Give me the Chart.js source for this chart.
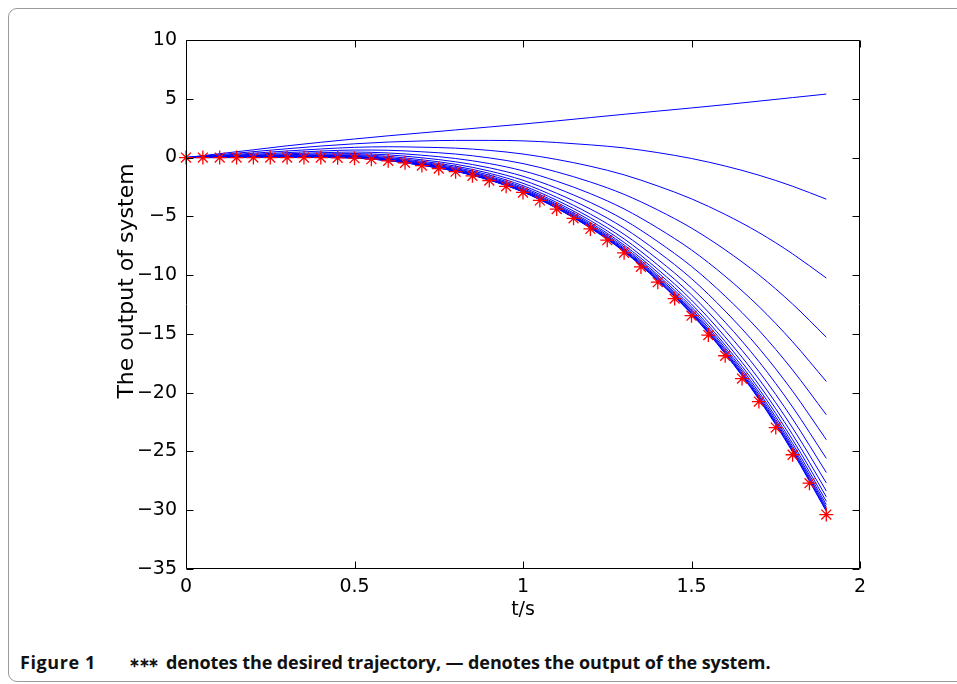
<!DOCTYPE html>
<html>
<head>
<meta charset="utf-8">
<title>Output of system</title>
<script src="https://cdn.jsdelivr.net/npm/chart.js@4.4.1/dist/chart.umd.min.js"></script>
<style>
  html, body { margin: 0; padding: 0; background: #fff; }
  #wrap { position: relative; width: 957px; height: 684px; overflow: hidden; }
  #frame { position: absolute; left: 8px; top: 8px; width: 1000px; height: 674px;
           border: 1px solid #9a9a9a; border-radius: 9px; box-sizing: border-box; }
  #plot { position: absolute; left: 0; top: 0; }
  .cap { position: absolute; top: 650px; white-space: nowrap;
         font: bold 18px "Open Sans", sans-serif; color: #111; }
  #capStars { font-size: 13px; top: 653px; letter-spacing: -1.5px; }
</style>
</head>
<body>
<div id="wrap">
  <div id="frame"></div>
  <canvas id="plot" width="957" height="630"></canvas>
  <span class="cap" style="left:20px; letter-spacing:0.6px">Figure 1</span>
  <span class="cap" id="capStars" style="left:129px">∗∗∗</span>
  <span class="cap" style="left:166px; letter-spacing:-0.1px">denotes the desired trajectory, — denotes the output of the system.</span>
</div>
<script>
// time grid for the desired trajectory (every 0.05 s) and for the system runs (every 0.1 s)
const tDesired = [0, 0.05, 0.1, 0.15, 0.2, 0.25, 0.3, 0.35, 0.4, 0.45, 0.5, 0.55, 0.6, 0.65, 0.7, 0.75,
  0.8, 0.85, 0.9, 0.95, 1.0, 1.05, 1.1, 1.15, 1.2, 1.25, 1.3, 1.35, 1.4, 1.45, 1.5, 1.55, 1.6, 1.65,
  1.7, 1.75, 1.8, 1.85, 1.9];
const tRun = [0, 0.1, 0.2, 0.3, 0.4, 0.5, 0.6, 0.7, 0.8, 0.9, 1.0, 1.1, 1.2, 1.3, 1.4, 1.5, 1.6, 1.7, 1.8, 1.9];

// desired trajectory (red stars)
const desired = [0, 0, 0, 0, 0, 0, 0, 0, 0, -0.02, -0.05, -0.14, -0.28, -0.45, -0.68, -0.93,
  -1.2, -1.55, -1.95, -2.45, -2.97, -3.65, -4.38, -5.17, -6.07, -7.03, -8.1, -9.3, -10.6, -12.0,
  -13.45, -15.1, -16.86, -18.8, -20.76, -22.97, -25.28, -27.7, -30.37];

// system output, one array per run
const run1  = [0, 0.33, 0.66, 1.0, 1.3, 1.58, 1.85, 2.10, 2.35, 2.60, 2.85, 3.12, 3.40, 3.68, 3.95, 4.22, 4.50, 4.80, 5.10, 5.40];
const run2  = [0, 0.25, 0.50, 0.75, 0.98, 1.17, 1.32, 1.41, 1.46, 1.46, 1.42, 1.28, 1.08, 0.82, 0.42, -0.08, -0.72, -1.50, -2.44, -3.54];
const run3  = [0, 0.19, 0.37, 0.56, 0.73, 0.87, 0.92, 0.88, 0.80, 0.61, 0.30, -0.16, -0.74, -1.47, -2.42, -3.51, -4.84, -6.38, -8.19, -10.25];
const run4  = [0, 0.14, 0.28, 0.42, 0.55, 0.64, 0.62, 0.49, 0.30, -0.03, -0.51, -1.22, -2.08, -3.13, -4.46, -6.00, -7.85, -9.98, -12.46, -15.28];
const run5  = [0, 0.10, 0.21, 0.32, 0.41, 0.47, 0.39, 0.20, -0.08, -0.51, -1.13, -2.01, -3.07, -4.37, -6.00, -7.86, -10.10, -12.67, -15.67, -19.05];
const run6  = [0, 0.08, 0.16, 0.24, 0.31, 0.34, 0.23, -0.02, -0.36, -0.87, -1.59, -2.60, -3.82, -5.30, -7.15, -9.26, -11.79, -14.69, -18.07, -21.88];
const run7  = [0, 0.06, 0.12, 0.18, 0.23, 0.24, 0.10, -0.19, -0.57, -1.14, -1.93, -3.04, -4.38, -6.00, -8.01, -10.30, -13.06, -16.21, -19.87, -24.00];
const run8  = [0, 0.04, 0.09, 0.13, 0.17, 0.17, 0.00, -0.31, -0.73, -1.34, -2.19, -3.38, -4.81, -6.53, -8.66, -11.09, -14.01, -17.35, -21.22, -25.59];
const run9  = [0, 0.03, 0.07, 0.10, 0.13, 0.11, -0.07, -0.40, -0.84, -1.49, -2.39, -3.63, -5.12, -6.92, -9.14, -11.68, -14.72, -18.20, -22.24, -26.79];
const run10 = [0, 0.02, 0.05, 0.08, 0.10, 0.07, -0.12, -0.47, -0.93, -1.61, -2.53, -3.82, -5.36, -7.22, -9.51, -12.12, -15.26, -18.84, -23.00, -27.68];
const run11 = [0, 0.02, 0.04, 0.06, 0.07, 0.04, -0.16, -0.52, -1.00, -1.69, -2.64, -3.96, -5.54, -7.44, -9.78, -12.46, -15.66, -19.32, -23.57, -28.36];
const run12 = [0, 0.01, 0.03, 0.04, 0.05, 0.02, -0.19, -0.56, -1.05, -1.76, -2.72, -4.06, -5.67, -7.60, -9.99, -12.70, -15.96, -19.68, -24.00, -28.86];
const run13 = [0, 0.01, 0.02, 0.03, 0.04, 0.00, -0.21, -0.59, -1.09, -1.81, -2.79, -4.14, -5.77, -7.73, -10.14, -12.89, -16.18, -19.95, -24.32, -29.24];
const run14 = [0, 0.01, 0.02, 0.02, 0.03, -0.01, -0.23, -0.61, -1.12, -1.84, -2.83, -4.20, -5.84, -7.82, -10.25, -13.03, -16.35, -20.15, -24.56, -29.52];
const run15 = [0, 0.01, 0.01, 0.02, 0.02, -0.02, -0.24, -0.63, -1.14, -1.87, -2.87, -4.25, -5.90, -7.89, -10.34, -13.14, -16.48, -20.31, -24.74, -29.73];
const run16 = [0, 0.00, 0.01, 0.01, 0.02, -0.03, -0.25, -0.64, -1.15, -1.89, -2.89, -4.28, -5.94, -7.94, -10.41, -13.21, -16.57, -20.42, -24.87, -29.89];
const run17 = [0, 0.00, 0.01, 0.01, 0.01, -0.03, -0.26, -0.65, -1.16, -1.90, -2.91, -4.30, -5.98, -7.98, -10.45, -13.27, -16.65, -20.50, -24.98, -30.01];
const run18 = [0, 0.00, 0.00, 0.01, 0.01, -0.04, -0.26, -0.66, -1.17, -1.92, -2.93, -4.32, -6.00, -8.01, -10.49, -13.32, -16.70, -20.57, -25.05, -30.10];
const runs = [run1, run2, run3, run4, run5, run6, run7, run8, run9, run10, run11, run12,
  run13, run14, run15, run16, run17, run18];

// axis ticks
const xTicks = [0, 0.5, 1, 1.5, 2];
const yTicks = [10, 5, 0, -5, -10, -15, -20, -25, -30, -35];

const FONT = '"DejaVu Sans", "Liberation Sans", sans-serif';
const tickFont = { family: FONT, size: 19 };
const TICK = 7;

function toPoints(xs, ys) {
  return ys.map((v, i) => ({ x: xs[i], y: v }));
}

// box around the plot with inward tick marks on all four sides, plus the y label
const boxAxes = {
  id: 'boxAxes',
  afterDatasetsDraw(chart) {
    const { ctx, chartArea: a, scales: { x, y } } = chart;
    const L = Math.round(a.left) + 0.5, R = Math.round(a.right) - 0.5;
    const T = Math.round(a.top) + 0.5, B = Math.round(a.bottom) - 0.5;
    ctx.save();
    ctx.strokeStyle = '#000';
    ctx.lineWidth = 1;
    ctx.beginPath();
    ctx.rect(L, T, R - L, B - T);
    yTicks.forEach(v => {
      const py = Math.round(y.getPixelForValue(v)) + 0.5;
      ctx.moveTo(L, py); ctx.lineTo(L + TICK, py);
      ctx.moveTo(R, py); ctx.lineTo(R - TICK, py);
    });
    xTicks.forEach(v => {
      const px = Math.round(x.getPixelForValue(v)) + 0.5;
      ctx.moveTo(px, B); ctx.lineTo(px, B - TICK);
      ctx.moveTo(px, T); ctx.lineTo(px, T + TICK);
    });
    ctx.stroke();

    // y label, rotated
    ctx.translate(127, 281);
    ctx.rotate(-Math.PI / 2);
    ctx.fillStyle = '#000';
    ctx.font = '22px ' + FONT;
    ctx.textAlign = 'center';
    ctx.textBaseline = 'middle';
    ctx.fillText('The output of system', 0, 0);
    ctx.restore();
  }
};

const datasets = [{
  label: 'desired',
  data: toPoints(tDesired, desired),
  showLine: false,
  pointStyle: 'star',
  pointRadius: 7,
  pointBorderColor: '#ff0000',
  pointBorderWidth: 1.3,
  clip: false,
  order: 0
}];
runs.forEach((r, i) => {
  datasets.push({
    label: 'run ' + (i + 1),
    data: toPoints(tRun, r),
    showLine: true,
    borderColor: '#0000ff',
    borderWidth: 1,
    pointRadius: 0,
    fill: false,
    cubicInterpolationMode: 'monotone',
    order: 1
  });
});

new Chart(document.getElementById('plot'), {
  type: 'scatter',
  data: { datasets },
  options: {
    responsive: false,
    animation: false,
    layout: { padding: { top: 40, right: 97, left: 0, bottom: 0 } },
    plugins: { legend: { display: false }, tooltip: { enabled: false } },
    scales: {
      x: {
        type: 'linear', min: 0, max: 2,
        afterBuildTicks: s => { s.ticks = xTicks.map(v => ({ value: v })); },
        afterFit: s => { s.height = 61; },
        grid: { display: true, drawOnChartArea: false, drawTicks: false },
        border: { display: false },
        ticks: { color: '#000', font: tickFont, padding: 7, maxRotation: 0,
                 callback: v => String(v) },
        title: { display: true, text: 't/s', color: '#000', font: { family: FONT, size: 19 },
                 padding: { top: 0, bottom: 9 } }
      },
      y: {
        type: 'linear', min: -35, max: 10,
        afterBuildTicks: s => { s.ticks = yTicks.map(v => ({ value: v })); },
        afterFit: s => { s.width = 186; },
        grid: { display: true, drawOnChartArea: false, drawTicks: false },
        border: { display: false },
        ticks: { color: '#000', font: tickFont, padding: 9,
                 callback: v => (v < 0 ? '\u2212' + Math.abs(v) : String(v)) },
        title: { display: false }
      }
    }
  },
  plugins: [boxAxes]
});
</script>
</body>
</html>
